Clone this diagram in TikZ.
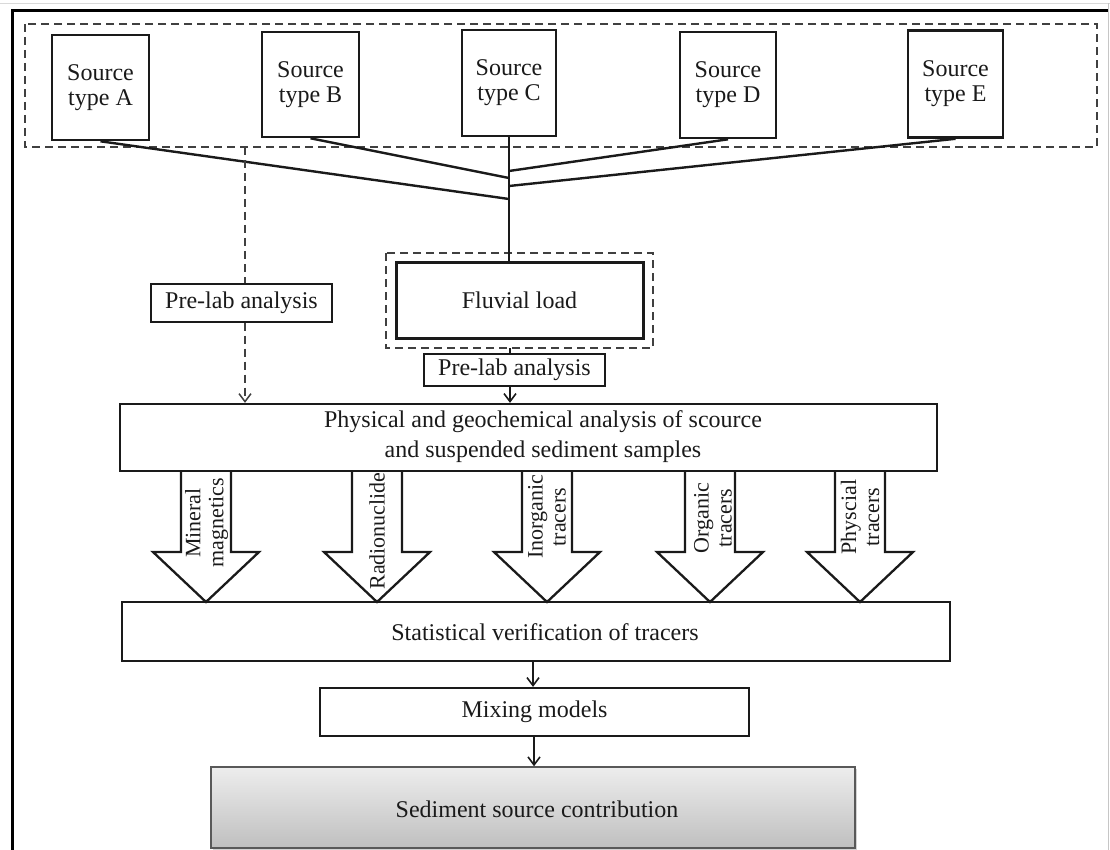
\documentclass[tikz,border=0pt]{standalone}
\usepackage{fontspec}
\setmainfont{Liberation Serif}
\usetikzlibrary{arrows.meta,shadows}
\definecolor{ink}{HTML}{1A1A1A}
\definecolor{dashgray}{HTML}{404040}
\begin{document}
\begin{tikzpicture}[x=1pt,y=-1pt,
  txt/.style={font=\fontsize{24}{25}\selectfont, text=ink},
  srcbox/.style={draw=ink, line width=2.6pt, inner sep=0pt, txt, align=center},
  bigbox/.style={draw=ink, line width=2.2pt, inner sep=0pt, txt, align=center},
  thinbox/.style={draw=ink, line width=1.2pt, inner sep=0pt, txt, align=center},
  dashbox/.style={draw=dashgray, line width=2pt, dash pattern=on 8pt off 5pt},
  conn/.style={draw=ink, line width=2.4pt},
  flow/.style={draw=ink, line width=1.8pt, -{Straight Barb[length=8pt,width=12pt,line width=1.6pt]}},
  dflow/.style={draw=dashgray, line width=1.8pt, dash pattern=on 8pt off 5pt},
  blockarrow/.style={draw=ink, line width=2.3pt, line join=miter},
  arrlabel/.style={font=\fontsize{22}{23}\selectfont, text=ink, rotate=90, align=center, inner sep=0pt}
]
\useasboundingbox (0,0) rectangle (1110,850);
% outer frame
\draw[gray!30, line width=1pt] (0,3.5) -- (1110,3.5);
\draw[gray!45, line width=1pt] (1108.5,3.5) -- (1108.5,850);
\draw[black, line width=2.8pt] (12.5,850) -- (12.5,10.5) -- (1108,10.5);

% source group
\draw[dashbox] (25,24) rectangle (1097,147);
\node[srcbox, minimum width=97pt, minimum height=105pt] (A) at (100.5,87.5) {Source\\type A};
\node[srcbox, minimum width=97pt, minimum height=105pt] (B) at (310.5,84.5) {Source\\type B};
\node[srcbox, minimum width=94pt, minimum height=106pt] (C) at (509,83) {Source\\type C};
\node[srcbox, minimum width=96pt, minimum height=106pt] (D) at (728,85) {Source\\type D};
\node[srcbox, minimum width=95pt, minimum height=107pt] (E) at (955.5,84) {Source\\type E};

% junctions on trunk
\coordinate (jD) at (509,171);
\coordinate (jB) at (509,178);
\coordinate (jE) at (509,186);
\coordinate (jA) at (509,199);
\draw[conn] (A.south) -- (jA);
\draw[conn] (B.south) -- (jB);
\draw[conn] (D.south) -- (jD);
\draw[conn] (E.south) -- (jE);

% fluvial load
\draw[dashbox] (386,253) rectangle (653,348);
\coordinate (fdS) at (510,348);
\node[bigbox, line width=3pt, minimum width=247pt, minimum height=76pt] (F) at (519.5,300) {Fluvial load};
\draw[conn] (C.south) -- (C.south |- F.north);

% pre-lab boxes
\node[thinbox, minimum width=181pt, minimum height=32pt] (P2) at (514.5,370) {Pre-lab analysis};
\node[thinbox, minimum width=181pt, minimum height=38pt] (P1) at (241.5,303) {Pre-lab analysis};

% physical analysis box
\node[bigbox, minimum width=817pt, minimum height=67pt] (Phys) at (528.5,437.5) {};
\node[txt, align=center, inner sep=0pt] (PhysT) at (543,437) {Physical and geochemical analysis of scource\\[5pt]and suspended sediment samples};

\draw[draw=ink, line width=1.2pt] (fdS) -- (fdS |- P2.north);
\draw[flow] (P2.south -| fdS) -- (Phys.north -| fdS);

\coordinate (dtop) at (245,147);
\draw[dflow] (dtop) -- (dtop |- P1.north);
\draw[dflow, -{Straight Barb[length=8pt,width=12pt,line width=1.5pt]}] (dtop |- P1.south) -- (dtop |- Phys.north);

% statistical box
\node[bigbox, minimum width=828pt, minimum height=59pt] (Stat) at (536,631.5) {};
\node[txt, inner sep=0pt] (StatT) at (545,632) {Statistical verification of tracers};

% block arrows
\foreach \cx in {206,377,547,710,860}{
  \draw[blockarrow] ({\cx-25},471) -- ({\cx-25},552) -- ({\cx-53},552) -- (\cx,602) -- ({\cx+53},552) -- ({\cx+25},552) -- ({\cx+25},471);
}
\node[arrlabel] (L1) at (206.5,523) {Mineral\\magnetics};
\node[arrlabel] (L2) at (377,531) {Radionuclide};
\node[arrlabel] (L3) at (547,517) {Inorganic\\tracers};
\node[arrlabel] (L4) at (713,518) {Organic\\tracers};
\node[arrlabel] (L5) at (860,517) {Physcial\\tracers};

% mixing
\node[bigbox, minimum width=429pt, minimum height=48pt] (Mix) at (534.5,712) {Mixing models};
\draw[flow] (Stat.south -| 533,0) -- (Mix.north -| 533,0);

% sediment source contribution
\node[draw=black!65, line width=1.5pt, top color=black!7, bottom color=black!25, txt, inner sep=0pt,
      minimum width=644pt, minimum height=81pt,
      drop shadow={shadow xshift=1.5pt, shadow yshift=-1.5pt, opacity=0.35}] (Sed) at (533,807.5) {};
\node[txt, inner sep=0pt] (SedT) at (537,809) {Sediment source contribution};
\draw[flow] (Mix.south -| 534,0) -- (Sed.north -| 534,0);
\end{tikzpicture}
\end{document}
